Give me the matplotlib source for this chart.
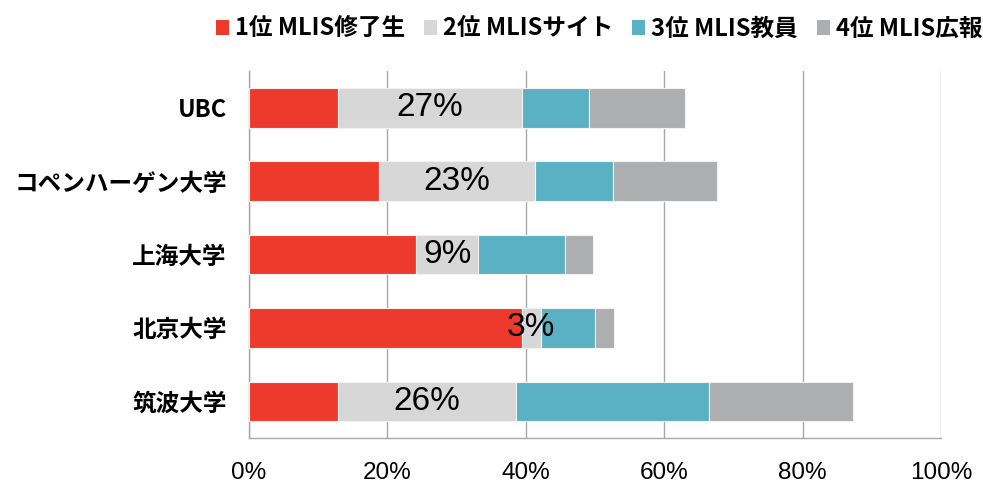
import matplotlib
matplotlib.use("Agg")
import matplotlib.pyplot as plt
from matplotlib.patches import Patch
import numpy as np

plt.rcParams['font.family'] = ['Noto Sans CJK JP', 'DejaVu Sans']

categories = ["UBC", "コペンハーゲン大学", "上海大学", "北京大学", "筑波大学"]
series_names = ["1位 MLIS修了生", "2位 MLISサイト", "3位 MLIS教員", "4位 MLIS広報"]
rank1 = [12.8, 18.8, 24.2, 39.4, 12.85]
rank2 = [26.7, 22.6, 8.9, 2.8, 25.8]
rank3 = [9.6, 11.2, 12.5, 7.8, 27.8]
rank4 = [13.9, 15.0, 4.1, 2.8, 20.85]
xticks = [0, 20, 40, 60, 80, 100]
colors = ["#EE3A2C", "#D7D7D7", "#5AB1C4", "#ADAEB0"]

fig = plt.figure(figsize=(9.83, 4.83), dpi=100)
ax = fig.add_axes([0.2533, 0.093, 0.7040, 0.760])

y = np.arange(len(categories))
left = np.zeros(len(categories))
series = [rank1, rank2, rank3, rank4]
for vals, col, name in zip(series, colors, series_names):
    vals = np.array(vals)
    ax.barh(y, vals, left=left, height=0.54, color=col, edgecolor="#F2F2F2",
            linewidth=0.8, label=name, zorder=3)
    if name == series_names[1]:
        for yi, l, v in zip(y, left, vals):
            ax.text(l + v / 2, yi, f"{v:.0f}%", ha="center", va="center",
                    fontsize=24, color="black", family=["Liberation Sans", "DejaVu Sans"],
                    zorder=5)
    left = left + vals

ax.set_xlim(0, 100)
ax.set_ylim(-0.5, len(categories) - 0.5)
ax.invert_yaxis()
ax.set_yticks(y)
ax.set_yticklabels(categories, fontsize=17, fontweight="bold")
ax.set_xticks(xticks)
ax.set_xticklabels([f"{t}%" for t in xticks], fontsize=17.5,
                   family=["Liberation Sans", "DejaVu Sans"])
ax.tick_params(axis="both", length=0)
ax.tick_params(axis="x", pad=17)
ax.tick_params(axis="y", pad=16)
ax.grid(axis="x", color="#A8A8A8", linewidth=1.0, zorder=0)
for s in ["top", "right"]:
    ax.spines[s].set_visible(False)
for s in ["left", "bottom"]:
    ax.spines[s].set_color("#A8A8A8")
    ax.spines[s].set_linewidth(1.0)

handles = [Patch(facecolor=c, edgecolor="none") for c in colors]
fig.legend(handles, series_names, loc="upper right", bbox_to_anchor=(0.999, 0.966),
           ncol=4, frameon=False, handlelength=0.55, handleheight=0.6,
           handletextpad=0.25, columnspacing=0.8, borderpad=0, borderaxespad=0,
           prop={"weight": "bold", "size": 17})

fig.savefig("out.png", dpi=100)
